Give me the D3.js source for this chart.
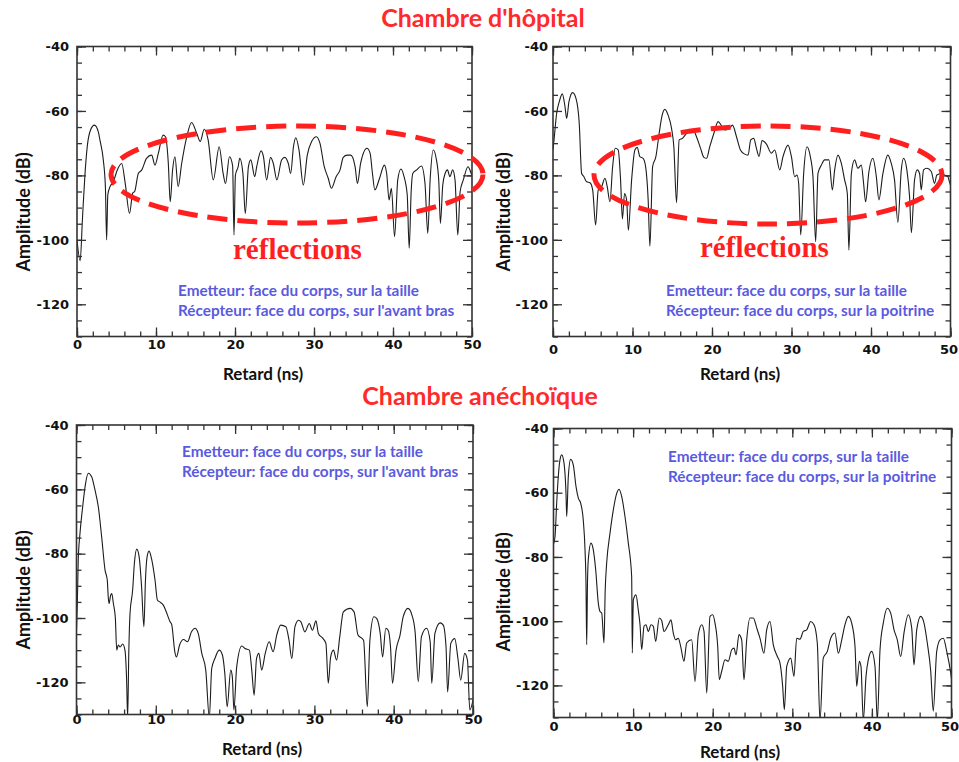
<!DOCTYPE html>
<html>
<head>
<meta charset="utf-8">
<script src="https://cdn.jsdelivr.net/npm/d3@7"></script>
<style>
  body { margin: 0; background: #fff; }
  svg { display: block; }
  .tick text { font-family: "DejaVu Sans", sans-serif; font-weight: bold; font-size: 13px; fill: #111; }
  .axis path { display: none; }
  .axis line { stroke: #333; stroke-width: 1.3; }
</style>
</head>
<body>
<svg id="chart" width="959" height="762"></svg>
<script>
// tick labels
var retardTicks = [0, 10, 20, 30, 40, 50];
var amplitudeTicks = [-40, -60, -80, -100, -120];

// [retard (ns), amplitude (dB)]
var hopitalAvantBras = [[0,-100],[0.4,-106.5],[0.7,-93],[1.0,-80],[1.3,-71],[1.7,-66],[2.2,-64.4],[2.7,-66.5],[2.9,-69],[3.33,-75.2],[3.6,-84],[3.75,-100],[3.9,-86],[4.18,-83.5],[4.6,-82],[5.1,-78.3],[5.66,-76.3],[6.1,-82.4],[6.65,-91.8],[7.05,-85.5],[7.3,-85],[7.76,-79.4],[8.2,-78.3],[8.8,-74.7],[9.45,-73.7],[9.87,-76.8],[10.3,-73.1],[10.9,-67.5],[11.2,-68],[11.56,-76.3],[11.8,-88.2],[12.1,-78.3],[12.4,-74.2],[12.8,-83.5],[13.25,-76.3],[13.9,-68],[14.5,-63.6],[15.15,-66.9],[15.6,-69.5],[16.1,-65.7],[16.6,-69],[17.25,-81.4],[18,-71.1],[18.5,-79.4],[18.8,-82.5],[19.3,-74.2],[19.7,-77],[19.87,-98.5],[20.05,-80],[20.4,-77.3],[20.6,-74.7],[21.0,-79.4],[21.3,-91.8],[21.7,-77.3],[22,-75.2],[22.5,-80.4],[22.75,-77.3],[23.3,-72.4],[23.6,-74.2],[24,-81.4],[24.5,-74.4],[24.85,-76.3],[25.3,-81.4],[25.9,-75.2],[26.3,-74.4],[26.75,-76.3],[27.05,-79.4],[27.4,-71.1],[27.7,-68.3],[28.1,-72.1],[28.65,-83],[29.15,-73.7],[29.7,-69.5],[30.3,-68],[30.75,-70],[31.3,-77.3],[31.8,-80.9],[32.2,-84],[32.8,-80.4],[33.3,-78.3],[33.7,-74.4],[34.2,-73.7],[34.65,-73.7],[35.2,-77.3],[35.5,-82.5],[35.9,-76.3],[36.7,-71.6],[37.1,-73.1],[37.4,-79.4],[37.7,-84.5],[38.3,-80.9],[38.9,-76.8],[39.2,-79.4],[39.5,-87.6],[39.8,-84],[40.2,-99],[40.6,-81.4],[41,-78],[41.4,-80.4],[41.8,-86],[42.05,-102.6],[42.3,-85],[42.5,-79.4],[43,-78.3],[43.6,-77.1],[44.05,-82.5],[44.4,-98],[44.7,-81.4],[45.1,-72.1],[45.5,-75.2],[45.8,-82],[46,-94.9],[46.3,-83],[46.6,-79.4],[46.9,-78.3],[47.2,-80.4],[47.55,-78.3],[47.85,-81.4],[48.2,-98.5],[48.5,-85],[48.9,-81.4],[49.5,-77.3],[49.9,-79.4],[50,-80]];

var hopitalPoitrine = [[0,-72],[0.13,-69],[0.46,-60.7],[0.79,-57.1],[1.17,-54.7],[1.51,-58.7],[1.72,-62.3],[2.01,-57.1],[2.47,-54.3],[2.89,-56.1],[3.3,-63.8],[3.6,-79.4],[3.89,-80.4],[4.23,-82],[4.65,-82.3],[4.99,-84.5],[5.36,-95.4],[5.69,-84.5],[6.12,-83.5],[6.53,-80.9],[6.82,-83.5],[7.16,-88.2],[7.5,-77.3],[7.83,-71.6],[8.2,-72.1],[8.5,-81.4],[8.73,-93.5],[9.0,-85.6],[9.26,-87.6],[9.48,-97],[9.89,-81.4],[10.3,-72.1],[10.59,-71.3],[10.93,-74.2],[11.34,-74.7],[11.65,-77.3],[11.97,-87.6],[12.19,-102],[12.53,-77.3],[12.94,-74.2],[13.35,-67],[13.73,-61.3],[14.07,-59.5],[14.48,-61.3],[14.91,-65.4],[15.2,-71.1],[15.54,-88.5],[15.87,-69],[16.29,-68.5],[16.71,-67.2],[17.21,-65.9],[17.63,-65.9],[18.05,-68],[18.56,-71.6],[18.97,-74.4],[19.31,-74.7],[19.72,-71.1],[20.23,-67],[20.77,-63.3],[21.19,-64.6],[21.6,-65.9],[22.15,-65.5],[22.58,-64.4],[23.08,-68],[23.58,-72.1],[24.12,-73.4],[24.54,-73.7],[24.87,-69],[25.25,-68.5],[25.59,-71.6],[25.92,-74.1],[26.29,-69.2],[26.85,-70.3],[27.47,-73.1],[27.89,-72.1],[28.52,-78.3],[28.93,-74.2],[29.56,-70.6],[29.99,-74.2],[30.4,-80.4],[30.69,-79.9],[30.9,-82.5],[31.16,-98.5],[31.53,-79.4],[31.95,-71.1],[32.37,-74.2],[32.7,-80.4],[33.04,-100.6],[33.33,-79.4],[33.76,-76.8],[34.17,-75.2],[34.71,-75.2],[35.14,-84.5],[35.43,-78.3],[35.84,-73.7],[36.27,-76.3],[36.68,-81.4],[37.02,-85.6],[37.22,-103.2],[37.53,-79.4],[37.94,-75.2],[38.35,-77.8],[38.78,-76.8],[39.07,-82.5],[39.32,-88.2],[39.74,-78.8],[40.24,-74.7],[40.67,-80.4],[40.99,-87.6],[41.5,-79.4],[42.12,-73.7],[42.55,-76.3],[42.96,-81.4],[43.38,-94.6],[43.81,-78.3],[44.1,-74.7],[44.51,-78.3],[44.85,-86.6],[45.08,-97.8],[45.48,-81.4],[45.82,-78.3],[46.11,-79.4],[46.32,-84.5],[46.61,-78.3],[47.02,-77.8],[47.58,-78.8],[47.99,-82.5],[48.28,-79.9],[48.83,-79.4],[49.25,-79.9],[49.66,-80.4],[49.87,-82],[50,-83]];

var anechoiqueAvantBras = [[0,-104],[0.1,-96],[0.22,-82],[0.44,-73.7],[0.78,-65.4],[1.11,-58.7],[1.49,-55],[1.91,-56.1],[2.33,-60.2],[2.75,-65.4],[3.17,-74.7],[3.6,-85.1],[3.88,-88.2],[4.0,-93.4],[4.1,-95.5],[4.3,-93],[4.45,-92.4],[4.65,-95.5],[4.9,-100],[5.07,-110],[5.27,-108.4],[5.5,-109],[5.82,-108.1],[6.11,-110],[6.32,-119.3],[6.45,-131],[6.6,-110],[6.75,-98.6],[7.08,-91.3],[7.3,-83],[7.6,-78.6],[7.9,-81],[8.2,-90],[8.5,-102.7],[8.7,-88],[8.9,-81],[9.15,-79.2],[9.5,-82],[9.9,-88.2],[10.2,-94.4],[10.5,-95],[10.95,-96],[11.4,-98.6],[11.8,-101.2],[12.0,-102],[12.4,-110.5],[12.6,-112.1],[13,-108.4],[13.5,-106.7],[14,-107.4],[14.5,-104.3],[14.95,-103.2],[15.35,-104.8],[15.8,-111],[16.3,-116.2],[16.75,-131],[17.05,-115.7],[17.45,-112.6],[18,-110],[18.4,-111.5],[18.7,-117.2],[19,-127.6],[19.45,-116.2],[19.65,-118.3],[19.85,-128.6],[20.2,-115.2],[20.85,-108.7],[21.25,-109.5],[21.8,-110],[22.1,-116.2],[22.4,-124],[22.7,-112.6],[23,-111],[23.35,-116.2],[23.8,-111],[24.3,-107.4],[24.8,-110.5],[25.25,-105.3],[25.75,-102.2],[26.4,-102.7],[26.8,-106.9],[27.15,-112.6],[27.55,-102.7],[28,-100.7],[28.3,-101.2],[28.8,-104.3],[29.35,-101.7],[29.75,-103.8],[30.2,-100.9],[30.5,-104.8],[31.1,-106.4],[31.45,-107.9],[31.75,-120.3],[32.05,-112.1],[32.4,-110],[32.8,-113.1],[33.2,-105.8],[33.65,-98.1],[34.5,-97],[35,-98.1],[35.5,-105.3],[36.2,-106.9],[36.67,-127.6],[37,-106.9],[37.5,-99.6],[37.85,-100.1],[38.3,-104.8],[38.6,-112.1],[39.0,-103.2],[39.3,-103.8],[39.6,-109],[39.85,-120.3],[40.3,-110],[40.8,-105.3],[41.2,-99.6],[41.8,-97],[42.3,-99.1],[42.7,-104.3],[43.1,-119.8],[43.5,-105.8],[44.15,-103.2],[44.6,-107.4],[44.8,-120.3],[45.2,-104.8],[45.85,-101.5],[46.25,-102.2],[46.6,-109],[46.8,-123],[47.2,-107.9],[47.7,-106.4],[48.1,-112.6],[48.45,-119.3],[48.95,-111],[49.3,-113.1],[49.6,-128.6],[50,-125.5]];

var anechoiquePoitrine = [[0,-76],[0.19,-73.7],[0.4,-63.3],[0.6,-55],[0.8,-50],[1.03,-48.2],[1.32,-50.8],[1.57,-60.2],[1.66,-67.4],[1.86,-55],[2.16,-49.6],[2.49,-51.4],[2.83,-58.1],[3.12,-61.7],[3.42,-63.3],[3.74,-68.5],[3.96,-77.8],[4.08,-88],[4.17,-107.3],[4.27,-88],[4.37,-80.9],[4.71,-75.7],[5.0,-77.8],[5.3,-84],[5.63,-94.4],[5.84,-97],[6.06,-97.5],[6.34,-106.8],[6.5,-90],[6.68,-81.9],[7.1,-72.6],[7.51,-65.4],[7.94,-60.2],[8.23,-58.9],[8.57,-61.2],[8.98,-67.4],[9.4,-75.7],[9.82,-86.1],[9.9,-109.9],[10.03,-93.3],[10.36,-91.8],[10.65,-96.5],[10.87,-101.1],[11.08,-108.9],[11.37,-101.6],[11.62,-101.1],[11.91,-103.2],[12.25,-101.1],[12.54,-101.6],[12.84,-106.3],[13.29,-99],[13.59,-99.8],[13.88,-103.2],[14.42,-101.1],[14.76,-99.6],[15.05,-103.7],[15.35,-105.8],[15.68,-105.3],[15.98,-107.9],[16.39,-112.5],[16.73,-106.8],[17.36,-105.8],[17.78,-118.8],[18.19,-104.2],[18.62,-101.1],[18.91,-103.2],[19.25,-122.4],[19.66,-98.5],[20,-98],[20.29,-100.6],[20.63,-107.9],[20.83,-118.2],[21.13,-115.6],[21.55,-112],[21.96,-112.5],[22.39,-108.9],[22.68,-108.4],[22.93,-110.5],[23.3,-104.2],[23.64,-105.8],[23.93,-118.2],[24.27,-105.8],[24.69,-99],[25.1,-99],[25.53,-102.1],[25.94,-105.3],[26.44,-110],[26.78,-102.7],[27.2,-100.1],[27.61,-107.3],[28.12,-111],[28.45,-113],[28.79,-120.3],[29,-127.6],[29.3,-114.1],[29.8,-111.5],[30.21,-117.2],[30.55,-105.3],[30.97,-105.6],[31.38,-103.2],[31.81,-102.7],[32.31,-100.1],[32.73,-101.1],[33.14,-106.8],[33.48,-131],[33.89,-111.5],[34.4,-109.4],[34.82,-105.3],[35.36,-103.7],[35.78,-110],[36.21,-105.8],[36.62,-101.1],[37.04,-98.5],[37.46,-100.6],[37.88,-107.9],[38.09,-120.3],[38.42,-112.5],[38.63,-114.1],[38.92,-131],[39.26,-117.2],[39.55,-112],[39.97,-109.4],[40.39,-114.1],[40.68,-131],[41.02,-108.9],[41.43,-100.6],[41.93,-96],[42.36,-97.5],[42.78,-102.7],[43.19,-105.8],[43.62,-111],[44.03,-103.7],[44.57,-98],[45,-102.1],[45.29,-113.6],[45.63,-102.7],[46.13,-98.5],[46.55,-100.6],[46.96,-106.8],[47.39,-115.6],[47.71,-128],[48.14,-109.4],[48.56,-105.8],[48.97,-105.3],[49.4,-109.4],[49.9,-116.1],[50,-118]];

var legendAvantBras = ["Emetteur: face du corps, sur la taille", "Récepteur: face du corps, sur l'avant bras"];
var legendPoitrine = ["Emetteur: face du corps, sur la taille", "Récepteur: face du corps, sur la poitrine"];

var svg = d3.select("#chart");

var panels = [
  { data: hopitalAvantBras, legend: legendAvantBras, left: 77, right: 472, top: 46.5, bottom: 336.5,
    xPad: 3, yPad: 8, ampX: 23, ampY: 212, retX: 263, retY: 373, legX: 178, legY: 296,
    ellipse: { cx: 297, cy: 174.5, rx: 186, ry: 48.5 }, refl: { x: 233, y: 259 } },
  { data: hopitalPoitrine, legend: legendPoitrine, left: 553, right: 950.5, top: 46.5, bottom: 336.5,
    xPad: 8, yPad: 5, ampX: 503, ampY: 212, retX: 740, retY: 373.5, legX: 666, legY: 296,
    ellipse: { cx: 768, cy: 175, rx: 174, ry: 49 }, refl: { x: 700, y: 257 } },
  { data: anechoiqueAvantBras, legend: legendAvantBras, left: 76.5, right: 473, top: 425, bottom: 714.5,
    xPad: 0, yPad: 8, ampX: 23, ampY: 590, retX: 262, retY: 748.5, legX: 182, legY: 457 },
  { data: anechoiquePoitrine, legend: legendPoitrine, left: 553.5, right: 951.5, top: 428.5, bottom: 717.5,
    xPad: 4.5, yPad: 5, ampX: 503, ampY: 592, retX: 740, retY: 751.5, legX: 668, legY: 462 }
];

// plain hyphen for negative numbers, like the original
var fmt = function (d) { return String(d); };

panels.forEach(function (p, i) {
  var x = d3.scaleLinear().domain([0, 50]).range([p.left, p.right]);
  var y = d3.scaleLinear().domain([-130, -40]).range([p.bottom, p.top]);
  var g = svg.append("g");

  // trace
  var clipId = "clip" + i;
  svg.append("clipPath").attr("id", clipId).append("rect")
    .attr("x", p.left).attr("y", p.top)
    .attr("width", p.right - p.left).attr("height", p.bottom - p.top);

  var line = d3.line()
    .curve(d3.curveMonotoneX)
    .x(function (d) { return x(d[0]); })
    .y(function (d) { return y(d[1]); });

  g.append("path")
    .datum(p.data)
    .attr("clip-path", "url(#" + clipId + ")")
    .attr("fill", "none")
    .attr("stroke", "#1c1c1c")
    .attr("stroke-width", 1.1)
    .attr("stroke-linejoin", "round")
    .attr("d", line);

  // minor ticks, all four sides, pointing inward
  var xMinor = d3.range(0, 51, 2), yMinor = d3.range(-130, -39, 5);
  g.append("g").attr("class", "axis").attr("transform", "translate(0," + p.bottom + ")")
    .call(d3.axisBottom(x).tickValues(xMinor).tickSize(-5).tickFormat(""));
  g.append("g").attr("class", "axis").attr("transform", "translate(0," + p.top + ")")
    .call(d3.axisTop(x).tickValues(xMinor).tickSize(-5).tickFormat(""));
  g.append("g").attr("class", "axis").attr("transform", "translate(" + p.left + ",0)")
    .call(d3.axisLeft(y).tickValues(yMinor).tickSize(-5).tickFormat(""));
  g.append("g").attr("class", "axis").attr("transform", "translate(" + p.right + ",0)")
    .call(d3.axisRight(y).tickValues(yMinor).tickSize(-5).tickFormat(""));

  // major ticks with labels
  var xAxis = g.append("g").attr("class", "axis").attr("transform", "translate(0," + p.bottom + ")")
    .call(d3.axisBottom(x).tickValues(retardTicks).tickSizeInner(-9).tickSizeOuter(0).tickPadding(p.xPad).tickFormat(fmt));
  if (p.left > 500) {
    // keep the last label inside the picture
    xAxis.selectAll(".tick text").filter(function (d) { return d === 50; }).attr("dx", -2);
  }
  g.append("g").attr("class", "axis").attr("transform", "translate(0," + p.top + ")")
    .call(d3.axisTop(x).tickValues(retardTicks).tickSizeInner(-9).tickSizeOuter(0).tickFormat(""));
  g.append("g").attr("class", "axis").attr("transform", "translate(" + p.left + ",0)")
    .call(d3.axisLeft(y).tickValues(amplitudeTicks).tickSizeInner(-9).tickSizeOuter(0).tickPadding(p.yPad).tickFormat(fmt));
  g.append("g").attr("class", "axis").attr("transform", "translate(" + p.right + ",0)")
    .call(d3.axisRight(y).tickValues(amplitudeTicks).tickSizeInner(-9).tickSizeOuter(0).tickFormat(""));

  // frame
  g.append("rect")
    .attr("x", p.left).attr("y", p.top)
    .attr("width", p.right - p.left).attr("height", p.bottom - p.top)
    .attr("fill", "none").attr("stroke", "#333").attr("stroke-width", 1.6);

  // axis titles
  g.append("text")
    .attr("transform", "translate(" + p.ampX + "," + p.ampY + ") rotate(-90)")
    .attr("text-anchor", "middle").attr("dominant-baseline", "central")
    .style("font-family", "Lato, sans-serif").style("font-weight", "bold").style("font-size", "18px")
    .attr("fill", "#111")
    .text("Amplitude (dB)");

  g.append("text")
    .attr("x", p.retX).attr("y", p.retY)
    .attr("text-anchor", "middle").attr("dominant-baseline", "central")
    .style("font-family", "Lato, sans-serif").style("font-weight", "bold").style("font-size", "17px")
    .attr("fill", "#111")
    .text("Retard (ns)");

  // legend
  g.selectAll(".legend")
    .data(p.legend)
    .enter().append("text")
    .attr("x", p.legX)
    .attr("y", function (d, k) { return p.legY + k * 19.5; })
    .style("font-family", "Lato, sans-serif").style("font-weight", "bold").style("font-size", "15.3px")
    .attr("fill", "#5a5ae0")
    .text(function (d) { return d; });

  // reflections annotation
  if (p.ellipse) {
    g.append("ellipse")
      .attr("cx", p.ellipse.cx).attr("cy", p.ellipse.cy)
      .attr("rx", p.ellipse.rx).attr("ry", p.ellipse.ry)
      .attr("fill", "none").attr("stroke", "#ff1f1f")
      .attr("stroke-width", 5).attr("stroke-dasharray", "20 10");
    g.append("text")
      .attr("x", p.refl.x).attr("y", p.refl.y)
      .style("font-family", "'Liberation Serif', serif").style("font-weight", "bold").style("font-size", "29px")
      .attr("fill", "#ff1f1f")
      .text("réflections");
  }
});

// section titles
svg.append("text").attr("x", 483).attr("y", 27).attr("text-anchor", "middle")
  .style("font-family", "Lato, sans-serif").style("font-weight", "bold").style("font-size", "25px")
  .attr("fill", "#ff2a2a").text("Chambre d'hôpital");
svg.append("text").attr("x", 480).attr("y", 405).attr("text-anchor", "middle")
  .style("font-family", "Lato, sans-serif").style("font-weight", "bold").style("font-size", "25px")
  .attr("fill", "#ff2a2a").text("Chambre anéchoïque");
</script>
</body>
</html>
